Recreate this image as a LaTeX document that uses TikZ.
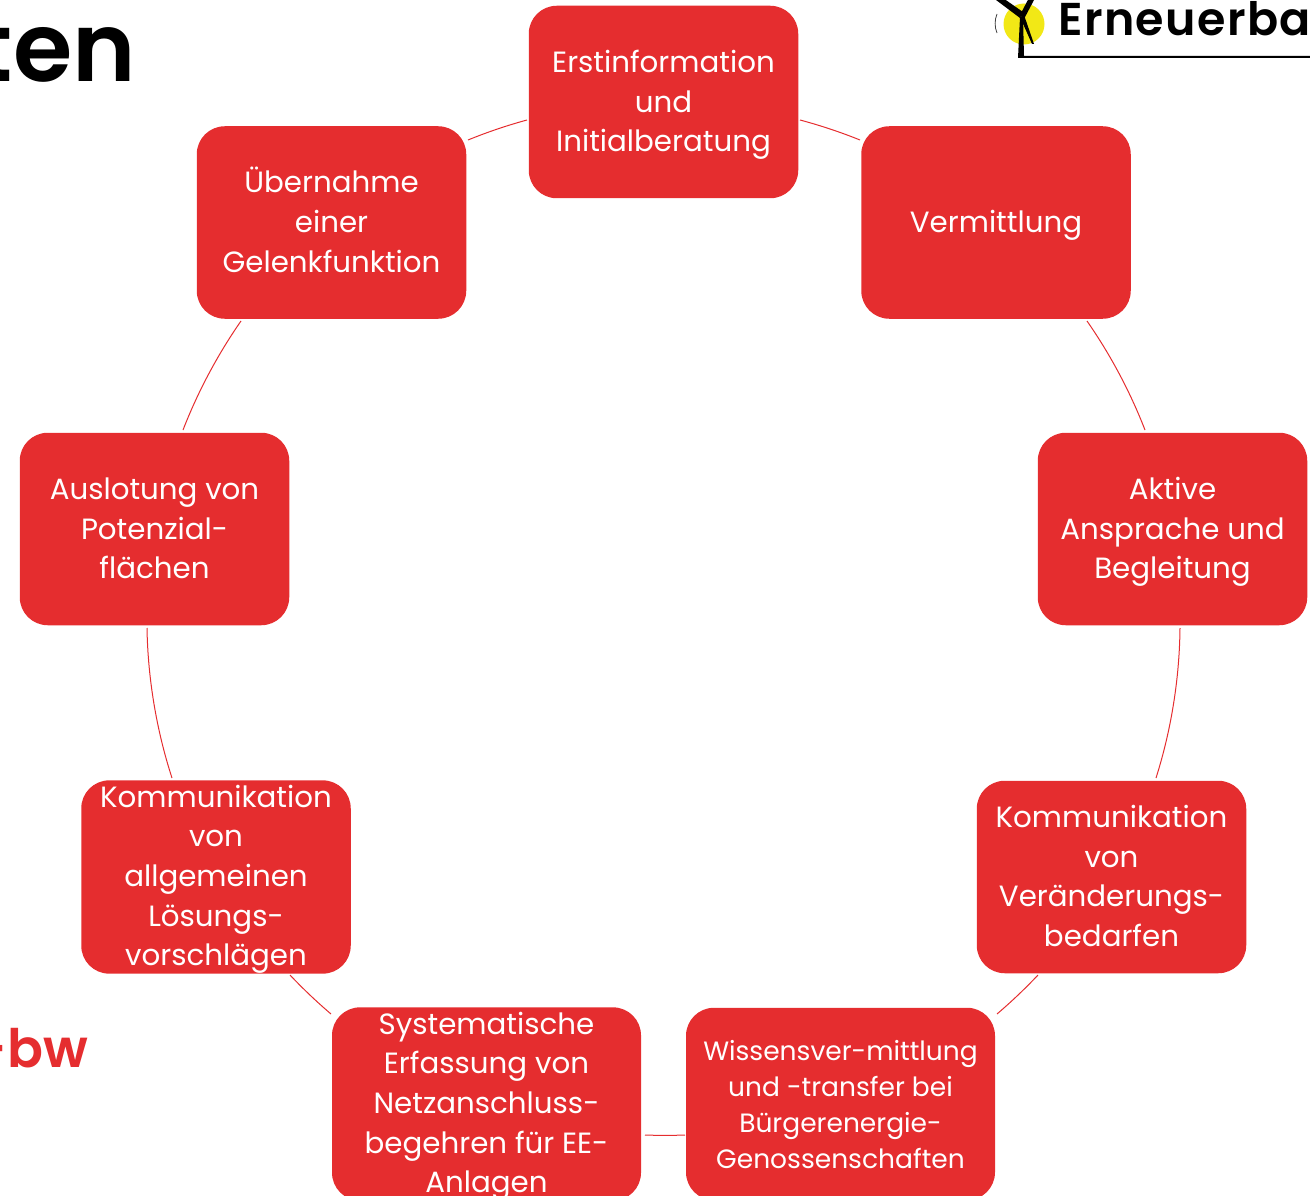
\documentclass[tikz,border=0pt]{standalone}
\usepackage{fontspec}
\setmainfont{Poppins}
\newfontfamily\semib{Poppins SemiBold}
\newfontfamily\semibs[LetterSpace=3]{Poppins SemiBold}
\definecolor{brandred}{HTML}{E52D2F}
\definecolor{sunyellow}{HTML}{F2E816}
\newcommand\firstln{\rule{0pt}{31.8pt}}
\newcommand\lastln{\rule[-11.8pt]{0pt}{11.8pt}}
\newcommand\firstlnb{\rule{0pt}{27pt}}
\newcommand\lastlnb{\rule[-7pt]{0pt}{7pt}}
\tikzset{
  box/.style={fill=brandred,rounded corners=28pt,minimum width=269.5pt,minimum height=192.5pt,inner sep=0pt,text=white,align=center,font=\fontsize{29.3}{39.6}\selectfont},
  widebox/.style={box,minimum width=309pt},
  smallbox/.style={widebox,font=\fontsize{26.5}{36}\selectfont},
  ring/.style={draw=brandred,line width=1pt},
  headline/.style={inner sep=0pt,font=\semib\fontsize{96}{96}\selectfont,anchor=base east},
}
\begin{document}
\begin{tikzpicture}[x=1pt,y=-1pt]
\useasboundingbox (0,0) rectangle (1310,1196);
\clip (0,0) rectangle (1310,1196);
\node[headline] (title) at (136,82) {ten};
\node[headline,font=\semib\fontsize{53}{53}\selectfont,text=brandred] (tag) at (88,1067) {-bw};
% logo
\fill[sunyellow] (1024,24) circle (20.5);
\draw[black!75,line width=0.8pt] (997,14) .. controls (994.5,20) and (994.5,27) .. (997,33);
\fill[black] (1018,58) -- (1020,17) -- (1023,17) -- (1024,56) -- (1310,56) -- (1310,58) -- cycle;
\fill[black] (1023,12) -- (1000,-4) -- (996,0) -- (1020,18) -- cycle;
\fill[black] (1020,15) -- (1030,-4) -- (1034,0) -- (1024,19) -- cycle;
\fill[black] (1020,17) -- (1024,15) -- (1034,44) -- (1032,44) -- cycle;
\node[inner sep=0pt,anchor=base west,font=\semibs\fontsize{46}{46}\selectfont] (brand) at (1058,36) {Erneuerba};
% boxes
\node[box] (n1) at (663.5,102) {\firstln Erstinformation\\und\\Initialberatung\lastln};
\node[box] (n2) at (996,222.5) {\firstln Vermittlung\lastln};
\node[box] (n3) at (1172.5,529) {\firstln Aktive\\Ansprache und\\Begleitung\lastln};
\node[box] (n4) at (1111.5,877) {\firstln Kommunikation\\von\\Veränderungs-\\bedarfen\lastln};
\node[smallbox] (n5) at (840.5,1104) {\firstln Wissensver-mittlung\\und -transfer bei\\Bürgerenergie-\\Genossenschaften\lastln};
\node[widebox] (n6) at (486.5,1104) {\firstlnb Systematische\\Erfassung von\\Netzanschluss-\\begehren für EE-\\Anlagen\lastlnb};
\node[box] (n7) at (216,877) {\firstlnb Kommunikation\\von\\allgemeinen\\Lösungs-\\vorschlägen\lastlnb};
\node[box] (n8) at (154.5,529) {\firstln Auslotung von\\Potenzial-\\flächen\lastln};
\node[box] (n9) at (331.5,222.5) {\firstln Übernahme\\einer\\Gelenkfunktion\lastln};
% ring end points
\coordinate (a1) at (800,120);   \coordinate (b1) at (860,140);
\coordinate (a2) at (1087,321);  \coordinate (b2) at (1145,430);
\coordinate (a3) at (1180,628);  \coordinate (b3) at (1156,778);
\coordinate (a4) at (1038,975);  \coordinate (b4) at (997,1014);
\coordinate (a5) at (685,1135);  \coordinate (b5) at (645,1135);
\coordinate (a6) at (331,1014);  \coordinate (b6) at (290,975);
\coordinate (a7) at (172,778);   \coordinate (b7) at (147,628);
\coordinate (a8) at (183,430);   \coordinate (b8) at (241,321);
\coordinate (a9) at (468,140);   \coordinate (b9) at (527,120);
\draw[ring] (a1) to[bend left=3.5,looseness=.85] (b1);
\draw[ring] (a2) to[bend left=6.8,looseness=.85] (b2);
\draw[ring] (a3) to[bend left=8.5,looseness=.85] (b3);
\draw[ring] (a4) to[bend left=3.1,looseness=.85] (b4);
\draw[ring] (a5) to[bend left=2.2,looseness=.85] (b5);
\draw[ring] (a6) to[bend left=3.1,looseness=.85] (b6);
\draw[ring] (a7) to[bend left=8.5,looseness=.85] (b7);
\draw[ring] (a8) to[bend left=6.8,looseness=.85] (b8);
\draw[ring] (a9) to[bend left=3.5,looseness=.85] (b9);
\end{tikzpicture}
\end{document}
